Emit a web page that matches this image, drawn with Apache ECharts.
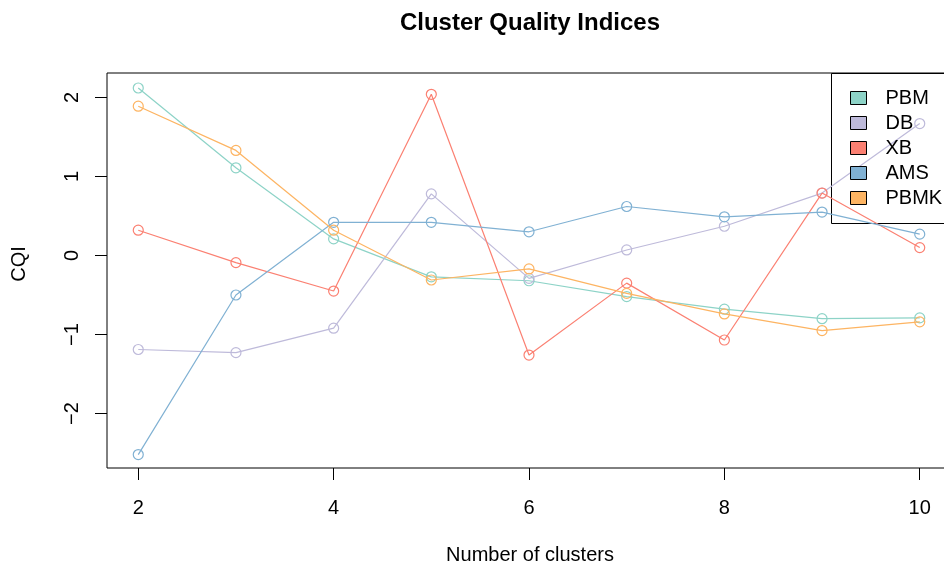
<!DOCTYPE html>
<html>
<head>
<meta charset="utf-8">
<script src="https://cdn.jsdelivr.net/npm/echarts@6/dist/echarts.min.js"></script>
<style>html,body{margin:0;padding:0;background:#fff}#c{width:944px;height:568px}</style>
</head>
<body>
<div id="c"></div>
<script>
var clusters = [2, 3, 4, 5, 6, 7, 8, 9, 10];
var PBM  = [2.12, 1.11, 0.21, -0.27, -0.32, -0.52, -0.68, -0.80, -0.79];
var DB   = [-1.19, -1.23, -0.92, 0.78, -0.29, 0.07, 0.37, 0.79, 1.67];
var XB   = [0.32, -0.09, -0.45, 2.04, -1.26, -0.35, -1.07, 0.79, 0.10];
var AMS  = [-2.52, -0.50, 0.42, 0.42, 0.30, 0.62, 0.49, 0.55, 0.27];
var PBMK = [1.89, 1.33, 0.32, -0.31, -0.17, -0.48, -0.74, -0.95, -0.84];
var seriesNames = ['PBM', 'DB', 'XB', 'AMS', 'PBMK'];
var seriesValues = [PBM, DB, XB, AMS, PBMK];
var colors = ['#8DD3C7', '#BEBADA', '#FB8072', '#80B1D3', '#FDB462'];
var xTicks = [2, 4, 6, 8, 10];
var yTicks = [-2, -1, 0, 1, 2];

var FONT = '"Liberation Sans", Arial, Helvetica, sans-serif';
var chart = echarts.init(document.getElementById('c'), null, {renderer: 'canvas'});

var series = seriesNames.map(function (name, i) {
  return {
    name: name,
    type: 'line',
    data: clusters.map(function (x, j) { return [x, seriesValues[i][j]]; }),
    symbol: 'circle',
    symbolSize: 10,
    showSymbol: true,
    clip: false,
    itemStyle: {color: 'rgba(0,0,0,0)', borderColor: colors[i], borderWidth: 1.2},
    lineStyle: {color: colors[i], width: 1.2},
    emphasis: {disabled: true},
    z: 2 + i
  };
});

chart.setOption({
  animation: false,
  backgroundColor: '#fff',
  grid: {left: 107, top: 73, width: 844, height: 395, show: true, borderColor: '#000', borderWidth: 1,
         backgroundColor: 'transparent', containLabel: false, outerBoundsMode: 'none'},
  xAxis: {
    type: 'value', min: 1.68, max: 10.32,
    splitLine: {show: false},
    axisLine: {show: false, onZero: false},
    axisTick: {show: true, length: 12, customValues: xTicks, lineStyle: {color: '#000', width: 1}},
    axisLabel: {customValues: xTicks, margin: 30, color: '#000', fontSize: 20, fontFamily: FONT}
  },
  yAxis: {
    type: 'value', min: -2.69, max: 2.31,
    splitLine: {show: false},
    axisLine: {show: false, onZero: false},
    axisTick: {show: true, length: 12, customValues: yTicks, lineStyle: {color: '#000', width: 1}},
    axisLabel: {customValues: yTicks, rotate: 90, margin: 25, color: '#000', fontSize: 20, fontFamily: FONT,
      formatter: function (v) { return v < 0 ? '\u2212' + Math.abs(v) : String(v); }}
  },
  legend: {
    orient: 'vertical',
    left: 832, top: 73,
    padding: [15, 18, 15, 18],
    borderWidth: 0,
    backgroundColor: 'transparent',
    icon: 'rect',
    itemWidth: 16, itemHeight: 13, itemGap: 5,
    selectedMode: false,
    itemStyle: {borderColor: '#000', borderWidth: 1},
    textStyle: {color: '#000', fontSize: 20, fontFamily: FONT, lineHeight: 20, padding: [0, 0, 0, 14]},
    data: seriesNames.map(function (n, i) { return {name: n, itemStyle: {color: colors[i], borderColor: '#000', borderWidth: 1}}; })
  },
  graphic: [
    {type: 'text', x: 530, y: 23, style: {text: 'Cluster Quality Indices', fill: '#000', font: 'bold 24px ' + FONT, textAlign: 'center', textVerticalAlign: 'middle'}},
    {type: 'text', x: 530, y: 555, style: {text: 'Number of clusters', fill: '#000', font: '20px ' + FONT, textAlign: 'center', textVerticalAlign: 'middle'}},
    {type: 'text', x: 19, y: 264, rotation: Math.PI / 2, style: {text: 'CQI', fill: '#000', font: '20px ' + FONT, textAlign: 'center', textVerticalAlign: 'middle'}},
    {type: 'rect', silent: true, z: 1, shape: {x: 831.5, y: 73.5, width: 140, height: 150}, style: {fill: 'none', stroke: '#000', lineWidth: 1}}
  ],
  series: series
});
</script>
</body>
</html>
